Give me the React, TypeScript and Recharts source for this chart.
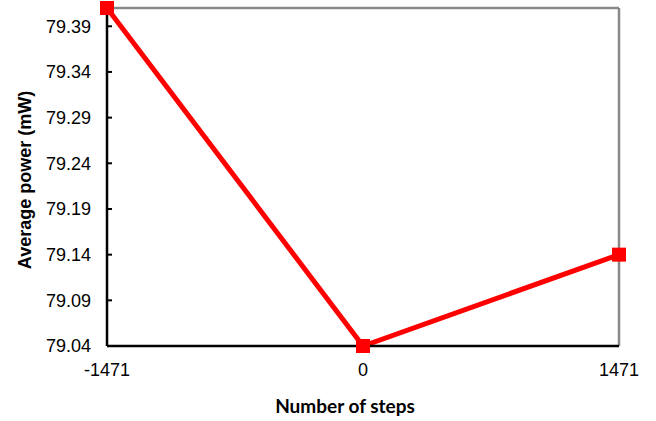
import React from 'react';
import { LineChart, Line, XAxis, YAxis, ReferenceLine, Customized } from 'recharts';

const steps = [-1471, 0, 1471];
const power = [79.41, 79.04, 79.14];
const yTicks = [79.04, 79.09, 79.14, 79.19, 79.24, 79.29, 79.34, 79.39];
const xTicks = [-1471, 0, 1471];
const yDomain = [79.04, 79.41];

const data = steps.map((s, i) => ({ steps: s, power: power[i] }));

const SquareDot = (props: any) => {
  const { cx, cy } = props;
  if (cx == null || cy == null) return null;
  return <rect x={cx - 7} y={cy - 7} width={14} height={14} fill="#FF0000" />;
};

const Titles = () => (
  <g>
    <text
      x={25}
      y={180}
      transform="rotate(-90, 25, 180)"
      textAnchor="middle"
      dominantBaseline="central"
      fontFamily="Liberation Sans, Arial, sans-serif"
      fontWeight="bold"
      fontSize={18}
      fill="#000"
    >
      Average power (mW)
    </text>
    <text
      x={345}
      y={405}
      textAnchor="middle"
      dominantBaseline="central"
      fontFamily="Lato, 'Open Sans', sans-serif"
      fontWeight="bold"
      fontSize={19}
      fill="#000"
    >
      Number of steps
    </text>
  </g>
);

export default function App() {
  const tickStyle = { fontFamily: 'Liberation Sans, Arial, sans-serif', fontSize: 18, fill: '#000' };
  return (
    <div style={{ position: 'absolute', left: 0, top: 0, width: 656, height: 421, background: '#fff' }}>
      <LineChart width={656} height={421} data={data} margin={{ top: 8, right: 37, bottom: 0, left: 0 }}>
        <XAxis
          dataKey="steps"
          type="number"
          domain={[-1471, 1471]}
          ticks={xTicks}
          height={75}
          tickLine={false}
          tickSize={6}
          tickMargin={11}
          axisLine={{ stroke: '#000', strokeWidth: 2.5 }}
          tick={tickStyle}
          interval={0}
        />
        <YAxis
          type="number"
          domain={yDomain}
          ticks={yTicks}
          width={107}
          tickSize={-5}
          tickMargin={21}
          tickLine={{ stroke: '#000', strokeWidth: 2 }}
          axisLine={{ stroke: '#000', strokeWidth: 2.5 }}
          tick={tickStyle}
          tickFormatter={(v: number) => v.toFixed(2)}
          interval={0}
        />
        <ReferenceLine y={79.41} stroke="#898989" strokeWidth={2.5} />
        <ReferenceLine x={1471} stroke="#898989" strokeWidth={2.5} />
        <Line
          type="linear"
          dataKey="power"
          stroke="#FF0000"
          strokeWidth={5}
          dot={<SquareDot />}
          activeDot={false}
          isAnimationActive={false}
        />
        <Customized component={Titles} />
      </LineChart>
    </div>
  );
}
